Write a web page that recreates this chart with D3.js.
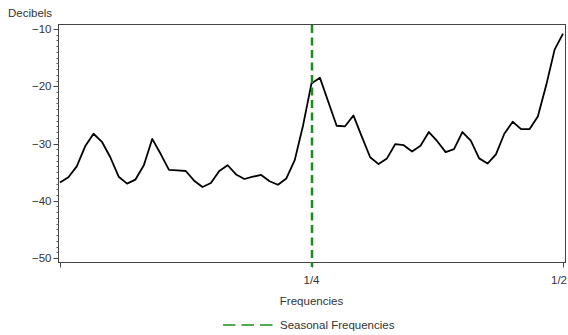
<!DOCTYPE html>
<html>
<head>
<meta charset="utf-8">
<script src="https://cdn.jsdelivr.net/npm/d3@7"></script>
<style>
  html, body { margin: 0; padding: 0; background: #fff; }
  svg { display: block; font-family: "Liberation Sans", Arial, Helvetica, sans-serif; }
  .lbl { fill: #333; font-size: 11.5px; }
</style>
</head>
<body>
<svg id="chart" width="568" height="335"></svg>
<script>
// Spectral density (dB) at frequencies k/120, k = 0..60
const frequencies = d3.range(0, 61).map(k => k / 120);
const decibels = [
  -36.8, -35.9, -34.0, -30.5, -28.3, -29.7, -32.4, -35.8, -37.0, -36.3,
  -33.8, -29.2, -31.8, -34.6, -34.7, -34.8, -36.5, -37.6, -36.9, -34.8,
  -33.8, -35.4, -36.2, -35.8, -35.5, -36.6, -37.2, -36.1, -32.9, -26.8,
  -19.5, -18.5, -22.7, -26.9, -27.0, -25.1, -28.8, -32.4, -33.6, -32.6,
  -30.1, -30.3, -31.4, -30.4, -28.0, -29.6, -31.5, -31.0, -28.0, -29.5,
  -32.6, -33.5, -31.9, -28.3, -26.2, -27.5, -27.5, -25.3, -19.8, -13.6,
  -10.8
];
const seasonalFrequencies = [0.25];
const xTickValues = [0, 0.25, 0.5];
const xTickLabels = ["", "1/4", "1/2"];
const yTickValues = [-10, -20, -30, -40, -50];

const svg = d3.select("#chart");
const frame = { left: 58, right: 566, top: 24, bottom: 262 };

const x = d3.scaleLinear().domain([0, 0.5]).range([60, 563]);
const y = d3.scaleLinear().domain([-50, -10]).range([258, 29]);

// plot frame
svg.append("rect")
  .attr("x", frame.left + 0.5).attr("y", frame.top + 0.5)
  .attr("width", frame.right - frame.left - 1).attr("height", frame.bottom - frame.top)
  .attr("fill", "none").attr("stroke", "#444").attr("stroke-width", 1);

// y axis: major ticks every 10 dB, minor every 1 dB
const yAxis = svg.append("g").attr("transform", `translate(${frame.left + 0.5},0)`);
yAxis.selectAll("line.minor").data(d3.range(-50, -9, 1))
  .join("line").attr("class", "minor")
  .attr("x1", -2).attr("x2", 0)
  .attr("y1", d => Math.round(y(d)) + 0.5).attr("y2", d => Math.round(y(d)) + 0.5)
  .attr("stroke", "#555").attr("stroke-width", 1);
yAxis.selectAll("line.major").data(yTickValues)
  .join("line").attr("class", "major")
  .attr("x1", -5).attr("x2", 0)
  .attr("y1", d => Math.round(y(d)) + 0.5).attr("y2", d => Math.round(y(d)) + 0.5)
  .attr("stroke", "#444").attr("stroke-width", 1);
yAxis.selectAll("text").data(yTickValues)
  .join("text").attr("class", "lbl")
  .attr("x", -7).attr("y", d => y(d)).attr("dy", "0.35em")
  .attr("text-anchor", "end")
  .text(d => "\u2212" + Math.abs(d));

svg.append("text").attr("class", "lbl")
  .attr("x", 8).attr("y", 17).text("Decibels");

// x axis ticks and labels (the last label is kept inside the right edge)
const xAxis = svg.append("g").attr("transform", `translate(0,${frame.bottom + 0.5})`);
xAxis.selectAll("line").data(xTickValues)
  .join("line")
  .attr("x1", d => Math.round(x(d)) + 0.5).attr("x2", d => Math.round(x(d)) + 0.5)
  .attr("y1", 0).attr("y2", 5)
  .attr("stroke", "#444").attr("stroke-width", 1);
xAxis.selectAll("text").data(xTickValues)
  .join("text").attr("class", "lbl")
  .attr("x", (d, i) => i === xTickValues.length - 1 ? 567 : x(d)).attr("y", 21)
  .attr("text-anchor", (d, i) => i === xTickValues.length - 1 ? "end" : "middle")
  .text((d, i) => xTickLabels[i]);

svg.append("text").attr("class", "lbl")
  .attr("x", x(0.25)).attr("y", 305).attr("text-anchor", "middle")
  .text("Frequencies");

// spectrum line
const line = d3.line().x((d, i) => x(frequencies[i])).y(d => y(d));
svg.append("path").datum(decibels)
  .attr("d", line)
  .attr("fill", "none").attr("stroke", "#000")
  .attr("stroke-width", 1.8).attr("stroke-linejoin", "round");

// seasonal frequency reference lines
const green = "#189018";
svg.selectAll("line.seasonal").data(seasonalFrequencies)
  .join("line").attr("class", "seasonal")
  .attr("x1", d => x(d) + 0.5).attr("x2", d => x(d) + 0.5)
  .attr("y1", frame.top + 1).attr("y2", frame.bottom + 5)
  .attr("stroke", green).attr("stroke-width", 2.5)
  .attr("stroke-dasharray", "8,4.5");

// legend
const legend = svg.append("g");
legend.append("line")
  .attr("x1", 223).attr("x2", 274).attr("y1", 325).attr("y2", 325)
  .attr("stroke", green).attr("stroke-width", 1.5)
  .attr("stroke-dasharray", "12.5,6");
legend.append("text").attr("class", "lbl")
  .attr("x", 280).attr("y", 325).attr("dy", "0.35em")
  .text("Seasonal Frequencies");
</script>
</body>
</html>
